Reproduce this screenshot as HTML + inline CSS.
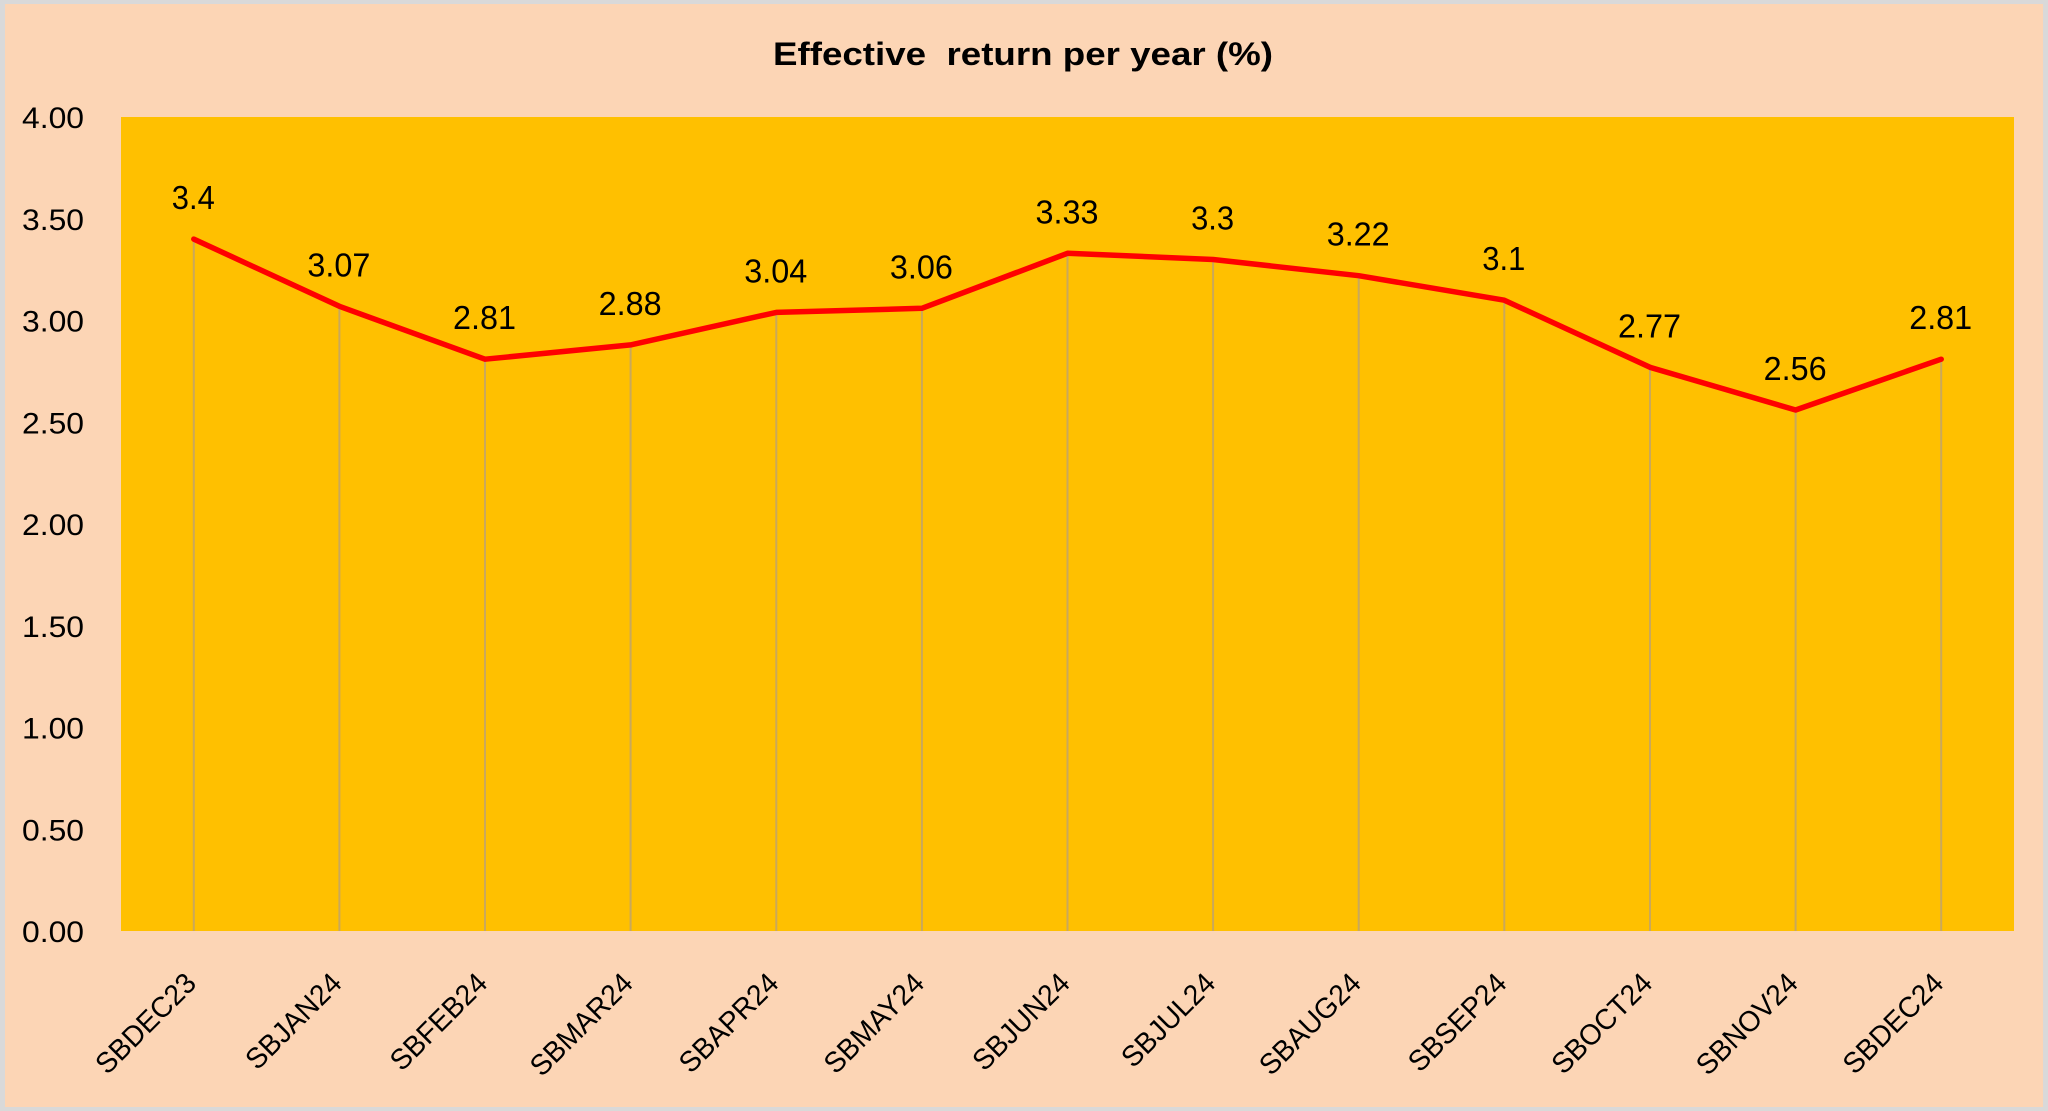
<!DOCTYPE html>
<html><head><meta charset="utf-8"><style>
html,body{margin:0;padding:0;width:2048px;height:1111px;overflow:hidden;background:#d9d9d9;}
svg{display:block;}
text{font-family:"Liberation Sans",Arial,sans-serif;fill:#000;}
</style></head><body>
<svg width="2048" height="1111" viewBox="0 0 2048 1111" xmlns="http://www.w3.org/2000/svg">
<rect x="0" y="0" width="2048" height="1111" fill="#d9d9d9"/>
<rect x="5" y="4" width="2038" height="1103" fill="#fcd5b5"/>
<rect x="121" y="117" width="1893" height="814" fill="#ffc000"/>
<text x="773" y="65" font-size="32" font-weight="bold" textLength="500" lengthAdjust="spacingAndGlyphs" xml:space="preserve">Effective  return per year (%)</text>
<g font-size="30">
<text x="22" y="128" textLength="62" lengthAdjust="spacingAndGlyphs">4.00</text>
<text x="22" y="229.75" textLength="62" lengthAdjust="spacingAndGlyphs">3.50</text>
<text x="22" y="331.5" textLength="62" lengthAdjust="spacingAndGlyphs">3.00</text>
<text x="22" y="433.25" textLength="62" lengthAdjust="spacingAndGlyphs">2.50</text>
<text x="22" y="535" textLength="62" lengthAdjust="spacingAndGlyphs">2.00</text>
<text x="22" y="636.75" textLength="62" lengthAdjust="spacingAndGlyphs">1.50</text>
<text x="22" y="738.5" textLength="62" lengthAdjust="spacingAndGlyphs">1.00</text>
<text x="22" y="840.25" textLength="62" lengthAdjust="spacingAndGlyphs">0.50</text>
<text x="22" y="942" textLength="62" lengthAdjust="spacingAndGlyphs">0.00</text>
</g>
<g stroke="#c9a85c" stroke-width="2">
<line x1="193.8" y1="239.1" x2="193.8" y2="931"/>
<line x1="339.4" y1="306.3" x2="339.4" y2="931"/>
<line x1="485.0" y1="359.2" x2="485.0" y2="931"/>
<line x1="630.6" y1="344.9" x2="630.6" y2="931"/>
<line x1="776.3" y1="312.4" x2="776.3" y2="931"/>
<line x1="921.9" y1="308.3" x2="921.9" y2="931"/>
<line x1="1067.5" y1="253.3" x2="1067.5" y2="931"/>
<line x1="1213.1" y1="259.5" x2="1213.1" y2="931"/>
<line x1="1358.7" y1="275.7" x2="1358.7" y2="931"/>
<line x1="1504.3" y1="300.2" x2="1504.3" y2="931"/>
<line x1="1650.0" y1="367.3" x2="1650.0" y2="931"/>
<line x1="1795.6" y1="410.0" x2="1795.6" y2="931"/>
<line x1="1941.2" y1="359.2" x2="1941.2" y2="931"/>
</g>
<polyline fill="none" stroke="#ff0000" stroke-width="5.5" stroke-linejoin="round" stroke-linecap="round" points="193.8,239.1 339.4,306.3 485.0,359.2 630.6,344.9 776.3,312.4 921.9,308.3 1067.5,253.3 1213.1,259.5 1358.7,275.7 1504.3,300.2 1650.0,367.3 1795.6,410.0 1941.2,359.2"/>
<g font-size="33">
<text x="171.8" y="209.1" textLength="43" lengthAdjust="spacingAndGlyphs">3.4</text>
<text x="307.4" y="276.3" textLength="63" lengthAdjust="spacingAndGlyphs">3.07</text>
<text x="453.0" y="329.2" textLength="63" lengthAdjust="spacingAndGlyphs">2.81</text>
<text x="598.6" y="314.9" textLength="63" lengthAdjust="spacingAndGlyphs">2.88</text>
<text x="744.3" y="282.4" textLength="63" lengthAdjust="spacingAndGlyphs">3.04</text>
<text x="889.9" y="278.3" textLength="63" lengthAdjust="spacingAndGlyphs">3.06</text>
<text x="1035.5" y="223.3" textLength="63" lengthAdjust="spacingAndGlyphs">3.33</text>
<text x="1191.1" y="229.5" textLength="43" lengthAdjust="spacingAndGlyphs">3.3</text>
<text x="1326.7" y="245.7" textLength="63" lengthAdjust="spacingAndGlyphs">3.22</text>
<text x="1482.3" y="270.2" textLength="43" lengthAdjust="spacingAndGlyphs">3.1</text>
<text x="1618.0" y="337.3" textLength="63" lengthAdjust="spacingAndGlyphs">2.77</text>
<text x="1763.6" y="380.0" textLength="63" lengthAdjust="spacingAndGlyphs">2.56</text>
<text x="1909.2" y="329.2" textLength="63" lengthAdjust="spacingAndGlyphs">2.81</text>
</g>
<g font-size="29" text-anchor="end">
<text transform="translate(197.8,985) rotate(-45) scale(0.97,1)">SBDEC23</text>
<text transform="translate(343.4,985) rotate(-45) scale(0.97,1)">SBJAN24</text>
<text transform="translate(489.0,985) rotate(-45) scale(0.97,1)">SBFEB24</text>
<text transform="translate(634.6,985) rotate(-45) scale(0.97,1)">SBMAR24</text>
<text transform="translate(780.3,985) rotate(-45) scale(0.97,1)">SBAPR24</text>
<text transform="translate(925.9,985) rotate(-45) scale(0.97,1)">SBMAY24</text>
<text transform="translate(1071.5,985) rotate(-45) scale(0.97,1)">SBJUN24</text>
<text transform="translate(1217.1,985) rotate(-45) scale(0.97,1)">SBJUL24</text>
<text transform="translate(1362.7,985) rotate(-45) scale(0.97,1)">SBAUG24</text>
<text transform="translate(1508.3,985) rotate(-45) scale(0.97,1)">SBSEP24</text>
<text transform="translate(1654.0,985) rotate(-45) scale(0.97,1)">SBOCT24</text>
<text transform="translate(1799.6,985) rotate(-45) scale(0.97,1)">SBNOV24</text>
<text transform="translate(1945.2,985) rotate(-45) scale(0.97,1)">SBDEC24</text>
</g>
</svg>
</body></html>
